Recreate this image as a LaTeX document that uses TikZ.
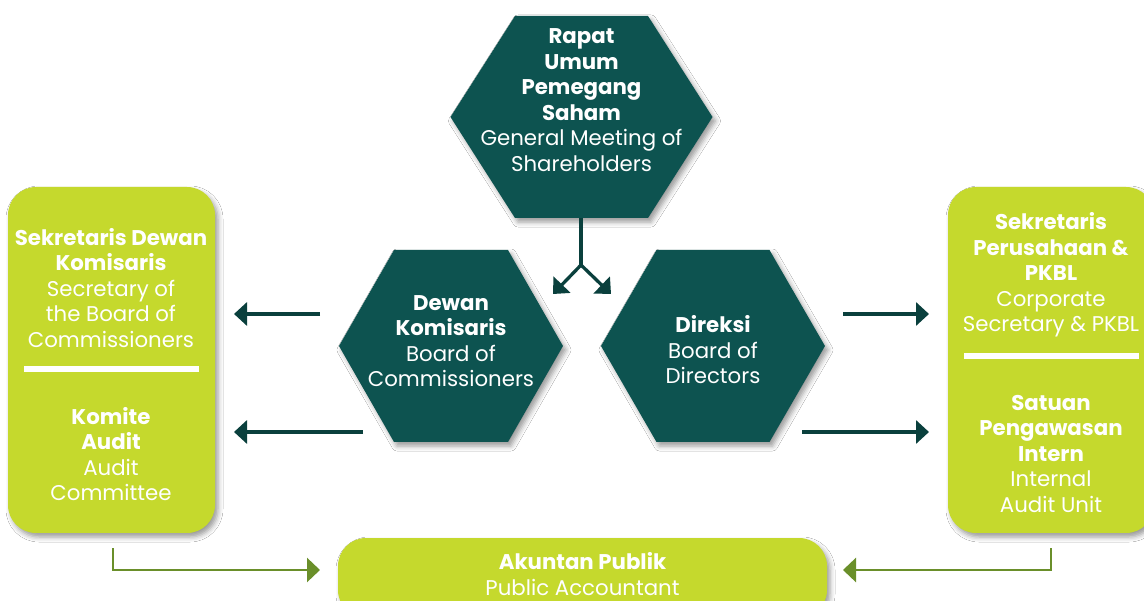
\documentclass[tikz,border=0pt]{standalone}
\usepackage{fontspec}
\setmainfont{Poppins}[BoldFont=* Bold]
\usetikzlibrary{arrows.meta,shadows.blur}

\definecolor{hexteal}{HTML}{0D5350}
\definecolor{arrowteal}{HTML}{0A403D}
\definecolor{limebox}{HTML}{C5D92D}
\definecolor{olivearrow}{HTML}{6A8F2A}

\tikzset{
  softshadow/.style={blur shadow={shadow xshift=3pt, shadow yshift=-4pt,
      shadow blur radius=5pt, shadow opacity=40}},
  hexfill/.style={fill=hexteal, softshadow},
  limebox/.style={fill=limebox, rounded corners=28pt, inner sep=0pt, softshadow},
  txt/.style={text=white, align=center, inner sep=0pt,
      font=\fontsize{21.3}{25.5}\selectfont},
  divider/.style={draw=white, line width=6pt},
  darrow/.style={draw=arrowteal, line width=3.3pt, -{Triangle[length=13pt,width=23pt]}},
  dline/.style={draw=arrowteal, line width=3.3pt},
  garrow/.style={draw=olivearrow, line width=2.7pt, -{Triangle[length=13pt,width=24pt]}},
}

% flat-topped hexagon: centre x, centre y, half width, half height, half top edge
\newcommand\hexshape[5]{%
  \fill[hexfill] ({#1-#3},#2) -- ({#1-#5},{#2-#4}) -- ({#1+#5},{#2-#4})
    -- ({#1+#3},#2) -- ({#1+#5},{#2+#4}) -- ({#1-#5},{#2+#4}) -- cycle;}

\begin{document}
\begin{tikzpicture}[x=1pt,y=-1pt]
\clip (0,0) rectangle (1144,601);
\fill[white] (0,0) rectangle (1144,601);

% hexagons
\hexshape{581.5}{117}{131}{101}{66.5}
\hexshape{451}{346}{112}{96}{57}
\hexshape{713}{346}{112}{96}{56.5}

% side and bottom boxes
\node[limebox, minimum width=207pt, minimum height=346pt] (lbox) at (111.5,360) {};
\node[limebox, minimum width=206pt, minimum height=346pt] (rbox) at (1051,360) {};
\node[limebox, minimum width=489pt, minimum height=80pt] (pa) at (582.5,578) {};

\draw[divider] (24,369) -- (199,369);
\draw[divider] (964,356) -- (1139,356);

% texts
\node[txt] (rups) at (581.5,100) {\textbf{Rapat}\\\textbf{Umum}\\\textbf{Pemegang}\\\textbf{Saham}\\General Meeting of\\Shareholders};
\node[txt] (dk) at (451,341) {\textbf{Dewan}\\\textbf{Komisaris}\\Board of\\Commissioners};
\node[txt] (dir) at (713,350) {\textbf{Direksi}\\Board of\\Directors};
\node[txt] (sdk) at (111,288) {\textbf{Sekretaris Dewan}\\\textbf{Komisaris}\\Secretary of\\the Board of\\Commissioners};
\node[txt] (ka) at (111,454) {\textbf{Komite}\\\textbf{Audit}\\Audit\\Committee};
\node[txt] (sp) at (1051,275) {\textbf{Sekretaris}\\\textbf{Perusahaan \&}\\\textbf{PKBL}\\Corporate\\Secretary \& PKBL};
\node[txt] (spi) at (1051,454) {\textbf{Satuan}\\\textbf{Pengawasan}\\\textbf{Intern}\\Internal\\Audit Unit};
\node[txt] (pat) at (582.5,574) {\textbf{Akuntan Publik}\\Public Accountant};

% connector end points
\coordinate (rupsB) at (581,218);
\coordinate (fork) at (581,265);
\coordinate (forkL) at (553,294);
\coordinate (forkR) at (611,294);
\coordinate (dkA) at (320,314);
\coordinate (dkB) at (363,432);
\coordinate (sdkT) at (234,314);
\coordinate (kaT) at (234,432);
\coordinate (dirA) at (843,314);
\coordinate (dirB) at (802,432);
\coordinate (spT) at (929,314);
\coordinate (spiT) at (929,432);
\coordinate (lboxB) at (113,548);
\coordinate (rboxB) at (1051,548);
\coordinate (paL) at (320,570);
\coordinate (paR) at (843,570);

% connectors
\draw[dline] (rupsB) -- (fork);
\draw[darrow] (fork) -- (forkL);
\draw[darrow] (fork) -- (forkR);
\draw[darrow] (dkA) -- (sdkT);
\draw[darrow] (dkB) -- (kaT);
\draw[darrow] (dirA) -- (spT);
\draw[darrow] (dirB) -- (spiT);
\draw[garrow] (lboxB) |- (paL);
\draw[garrow] (rboxB) |- (paR);
\end{tikzpicture}
\end{document}
